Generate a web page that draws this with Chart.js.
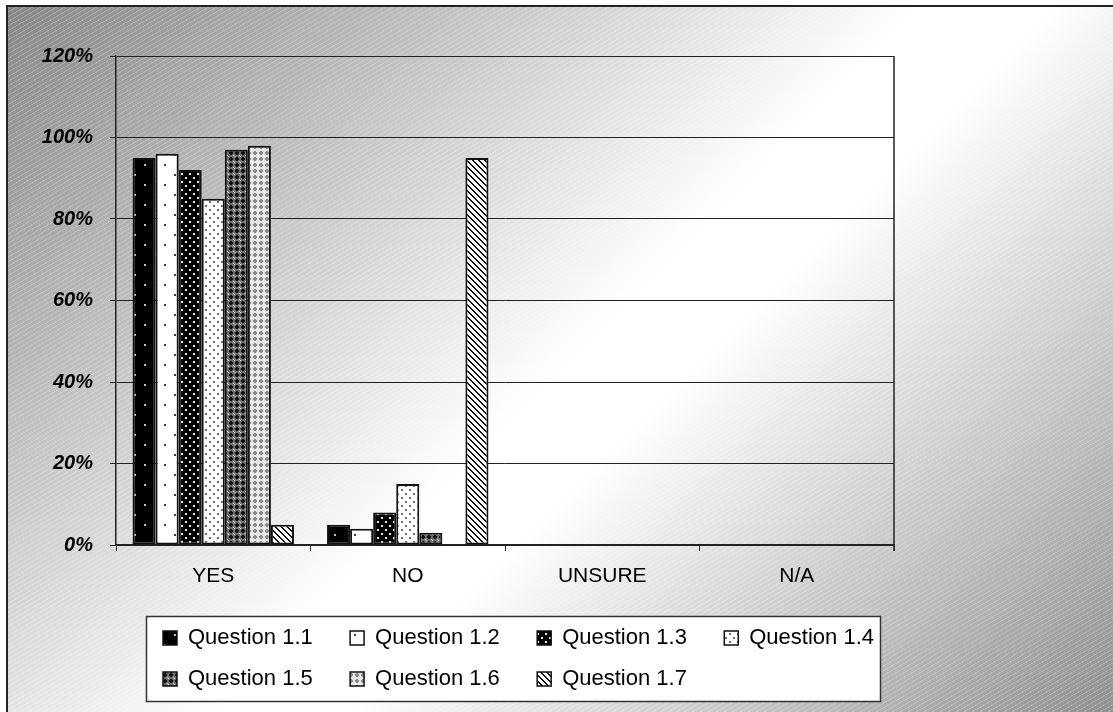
<!DOCTYPE html>
<html>
<head>
<meta charset="utf-8">
<title>Questions 1.1 - 1.7</title>
<script src="https://cdn.jsdelivr.net/npm/chart.js@4.4.0/dist/chart.umd.min.js"></script>
<style>
  html, body { margin: 0; padding: 0; background: #fff; }
  body { width: 1113px; height: 712px; position: relative; overflow: hidden; }
  #frame {
    position: absolute; left: 6px; top: 5px; width: 1115px; height: 715px;
    border: 2px solid #222;
    background:
      repeating-linear-gradient(150deg, rgba(255,255,255,0.22) 0px, rgba(255,255,255,0.22) 1px, rgba(255,255,255,0) 1px, rgba(255,255,255,0) 4px),
      linear-gradient(135deg, #878787 0%, #ffffff 50%, #ffffff 57%, #8d8d8d 100%);
  }
  #wrap { position: absolute; left: 0; top: 0; width: 1113px; height: 712px; }
</style>
</head>
<body>
<div id="frame"></div>
<div id="wrap"><canvas id="chart"></canvas></div>
<script>
// categorias e valores (fração de respostas)
const categories = ["YES", "NO", "UNSURE", "N/A"];
const seriesNames = ["Question 1.1", "Question 1.2", "Question 1.3", "Question 1.4", "Question 1.5", "Question 1.6", "Question 1.7"];
const q11 = [0.95, 0.05, 0, 0];
const q12 = [0.96, 0.04, 0, 0];
const q13 = [0.92, 0.08, 0, 0];
const q14 = [0.85, 0.15, 0, 0];
const q15 = [0.97, 0.03, 0, 0];
const q16 = [0.98, 0, 0, 0];
const q17 = [0.05, 0.95, 0, 0];
const yTicks = [0, 0.2, 0.4, 0.6, 0.8, 1.0, 1.2];

const seriesValues = [q11, q12, q13, q14, q15, q16, q17];

// padrões de preenchimento (estilo Excel em preto e branco)
function makePattern(w, h, draw) {
  const c = document.createElement("canvas");
  c.width = w; c.height = h;
  const g = c.getContext("2d");
  draw(g, w, h);
  return g.createPattern(c, "repeat");
}

function dots(bg, fg, size, pts) {
  return (g, w, h) => {
    g.fillStyle = bg; g.fillRect(0, 0, w, h);
    g.fillStyle = fg;
    pts.forEach(([x, y]) => g.fillRect(x, y, size, size));
  };
}

function plus(bg, fg, corner) {
  return (g, w, h) => {
    g.fillStyle = bg; g.fillRect(0, 0, w, h);
    g.fillStyle = fg;
    g.fillRect(2, 1, 2, 4);
    g.fillRect(1, 2, 4, 2);
    g.fillStyle = corner;
    g.fillRect(5, 5, 1, 1);
    g.fillRect(0, 0, 1, 1);
  };
}

const patterns = [
  makePattern(20, 20, dots("#000", "#bdbdbd", 2, [[4, 4], [14, 14]])),
  makePattern(20, 20, dots("#fff", "#444", 2, [[4, 4], [14, 14]])),
  makePattern(8, 8, dots("#000", "#e6e6e6", 2, [[1, 1], [5, 5]])),
  makePattern(8, 8, dots("#fff", "#6a6a6a", 2, [[1, 1], [5, 5]])),
  makePattern(6, 6, plus("#6e6e6e", "#111", "#fff")),
  makePattern(6, 6, plus("#e4e4e4", "#8a8a8a", "#fff")),
  makePattern(6, 6, (g, w, h) => {
    g.fillStyle = "#fff"; g.fillRect(0, 0, w, h);
    g.fillStyle = "#111";
    for (let y = 0; y < h; y++) {
      for (let x = 0; x < w; x++) {
        if ((x - y + w) % w < 2) g.fillRect(x, y, 1, 1);
      }
    }
  })
];

// moldura da legenda e borda direita da área do gráfico
const frameParts = {
  id: "frameParts",
  beforeDraw(chart) {
    const lg = chart.legend;
    lg.left = 144;
    lg.right = 1000;
    lg.top = 608;
    const ctx = chart.ctx;
    ctx.save();
    ctx.fillStyle = "#fff";
    ctx.fillRect(146, 616, 734, 85);
    ctx.strokeStyle = "#333";
    ctx.lineWidth = 1.5;
    ctx.strokeRect(146.5, 616.5, 734, 85);
    ctx.restore();
  },
  afterDraw(chart) {
    const { top, bottom, right } = chart.chartArea;
    const ctx = chart.ctx;
    ctx.save();
    ctx.strokeStyle = "#222";
    ctx.lineWidth = 1.5;
    ctx.beginPath();
    ctx.moveTo(right, top);
    ctx.lineTo(right, bottom + 6);
    ctx.stroke();
    ctx.restore();
  }
};

const datasets = seriesNames.map((name, i) => ({
  label: name,
  data: seriesValues[i],
  backgroundColor: patterns[i],
  borderColor: "#111",
  borderWidth: ctx => (ctx.raw === 0 ? 0 : 2),
  borderSkipped: false
}));

new Chart(document.getElementById("chart"), {
  type: "bar",
  data: { labels: categories, datasets },
  plugins: [frameParts],
  options: {
    responsive: true,
    maintainAspectRatio: false,
    animation: false,
    layout: { padding: { top: 56, right: 219, bottom: 8, left: 0 } },
    datasets: { bar: { categoryPercentage: 0.83, barPercentage: 1.0 } },
    plugins: {
      tooltip: { enabled: false },
      legend: {
        position: "bottom",
        align: "start",
        maxHeight: 100,
        labels: {
          color: "#000",
          font: { family: "'Liberation Sans', Arial, sans-serif", size: 22 },
          boxWidth: 14,
          boxHeight: 14,
          padding: 19,
          generateLabels(chart) {
            return Chart.defaults.plugins.legend.labels.generateLabels(chart).map(item => {
              item.text = item.text + "   ";
              item.lineWidth = 1.5;
              return item;
            });
          }
        }
      }
    },
    scales: {
      x: {
        grid: { display: true, drawOnChartArea: false, drawTicks: true, tickLength: 6, offset: true, color: "#222" },
        border: { color: "#222", width: 1.5 },
        ticks: {
          color: "#000",
          padding: 13,
          font: { family: "'Liberation Sans', Arial, sans-serif", size: 21 }
        },
        afterFit(scale) { scale.height = 67; }
      },
      y: {
        min: 0,
        max: 1.2,
        afterBuildTicks(scale) { scale.ticks = yTicks.map(v => ({ value: v })); },
        grid: { color: "#222", lineWidth: 1, tickLength: 6, drawTicks: true },
        border: { color: "#222", width: 1.5 },
        ticks: {
          color: "#000",
          padding: 17,
          font: { family: "'Liberation Sans', Arial, sans-serif", size: 20, weight: "bold", style: "italic" },
          callback: v => Math.round(v * 100) + "%"
        },
        afterFit(scale) { scale.width = 116; }
      }
    }
  }
});
</script>
</body>
</html>
